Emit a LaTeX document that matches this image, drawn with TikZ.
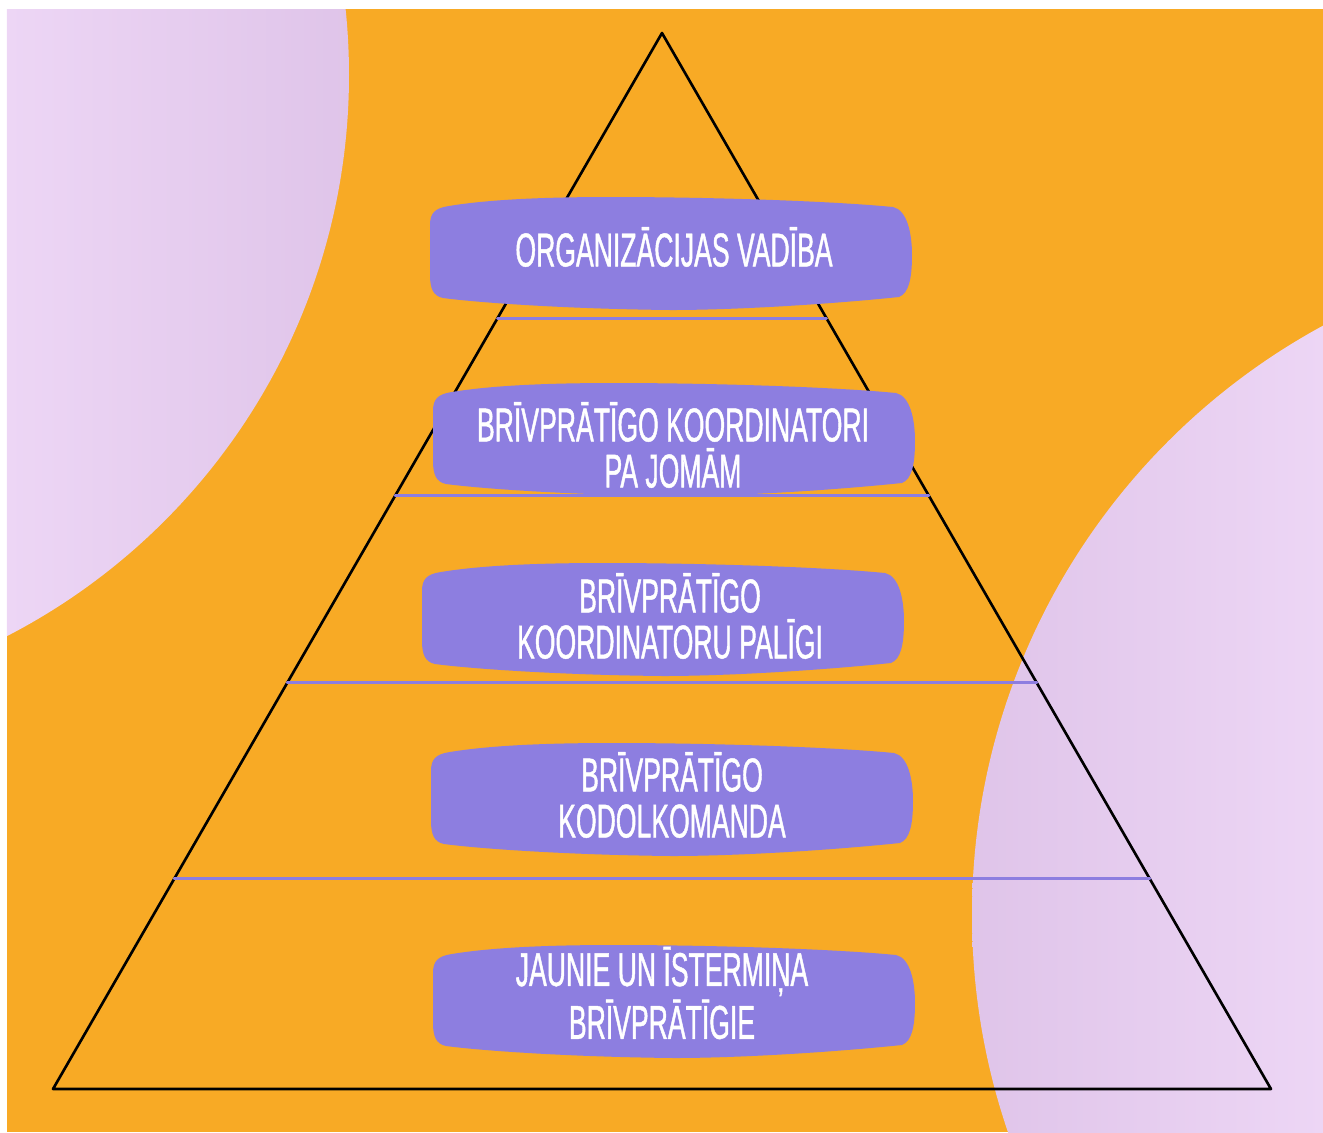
\documentclass[tikz,border=0pt]{standalone}
\usepackage{fontspec}
\usepackage{tikz}
\usetikzlibrary{calc}
\newfontfamily\levelfont[FakeStretch=0.56,FakeBold=0.9]{Liberation Sans}
\definecolor{bgorange}{rgb}{0.973,0.667,0.145}
\definecolor{blobpurple}{rgb}{0.553,0.494,0.878}
\definecolor{lilaclight}{rgb}{0.929,0.839,0.961}
\definecolor{lilacdark}{rgb}{0.875,0.769,0.914}
\tikzstyle{blobfill}=[fill=blobpurple]
\tikzstyle{leveltext}=[text=white,align=center,font=\levelfont\fontsize{13.5}{13.1}\selectfont]
\tikzstyle{divider}=[draw=blobpurple,line width=0.85pt]
\newcommand{\blob}[1]{\fill[blobfill,shift={#1}] (-241,22) -- (-241,-28) .. controls (-241,-40) and (-236,-45) .. (-222,-47) .. controls (-180,-54) and (-120,-56) .. (-60,-56) .. controls (40,-56) and (160,-52) .. (222,-46) .. controls (236,-43) and (241,-20) .. (241,2) .. controls (241,25) and (238,40) .. (228,44) .. controls (150,52) and (60,57) .. (0,57) .. controls (-100,56) and (-190,50) .. (-228,45) .. controls (-238,43) and (-241,35) .. (-241,22) -- cycle;}

\begin{document}
\begin{tikzpicture}[line cap=round,line join=round,x=0.01cm,y=-0.01cm]
            \useasboundingbox (0,0) rectangle (1323,1132);
            \fill[bgorange] (7,9) rectangle (1323,1132);
            \begin{scope}
            \clip (-282,75) circle (631);
            \shade[left color=lilaclight,right color=lilacdark] (7,9) rectangle (350,640);
            \end{scope}
            \begin{scope}
            \clip (1642,915) circle (670);
            \shade[left color=lilacdark,right color=lilaclight] (970,300) rectangle (1323,1132);
            \end{scope}
            \coordinate (apex) at (662,33);
            \coordinate (bl) at (53,1089);
            \coordinate (br) at (1271,1089);
            \draw[line width=0.75pt] (apex) -- (bl) -- (br) -- cycle;
            \draw[divider] ($(apex)!0.2699!(bl)$) -- ($(apex)!0.2699!(br)$);
            \draw[divider] ($(apex)!0.4384!(bl)$) -- ($(apex)!0.4384!(br)$);
            \draw[divider] ($(apex)!0.6155!(bl)$) -- ($(apex)!0.6155!(br)$);
            \draw[divider] ($(apex)!0.8011!(bl)$) -- ($(apex)!0.8011!(br)$);
            \blob{(671,253)}
            \blob{(674,439)}
            \blob{(663,619)}
            \blob{(672,799)}
            \blob{(674,1001)}
            \node[leveltext] (vadiba) at (674,247) {ORGANIZĀCIJAS VADĪBA};
            \node[leveltext] (koordinatori) at (673,445) {BRĪVPRĀTĪGO KOORDINATORI\\PA JOMĀM};
            \node[leveltext] (paligi) at (670,616) {BRĪVPRĀTĪGO\\KOORDINATORU PALĪGI};
            \node[leveltext] (kodols) at (672,795) {BRĪVPRĀTĪGO\\KODOLKOMANDA};
            \node[leveltext] (jaunie) at (662,993) {JAUNIE UN ĪSTERMIŅA\\BRĪVPRĀTĪGIE};
\end{tikzpicture}
\end{document}
